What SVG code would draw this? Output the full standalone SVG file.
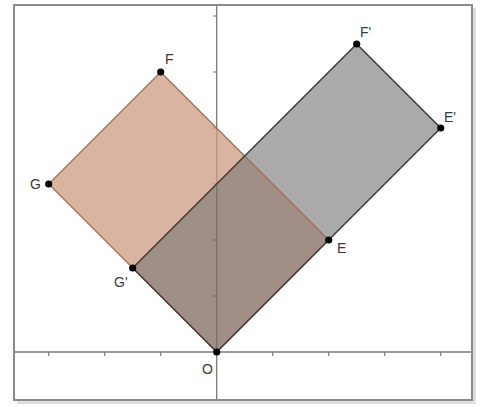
<svg xmlns="http://www.w3.org/2000/svg" width="482" height="407" viewBox="0 0 482 407">
  <style>
    .axis { stroke: #7a7a7a; stroke-width: 1.3; fill: none; }
    .tick { stroke: #7a7a7a; stroke-width: 1.2; }
    .orange-edge { stroke: #a5643f; stroke-width: 1.1; fill: none; }
    .gray-edge { stroke: #3c3c3c; stroke-width: 1.5; fill: none; stroke-linejoin: round; }
    .pt { fill: #000; }
    .lbl { font-family: "Liberation Sans", Arial, sans-serif; font-size: 14px; fill: #3a3a3a; }
  </style>
  <rect x="0" y="0" width="482" height="407" fill="#ffffff"/>
  <!-- frame with shadow -->
  <rect x="17" y="8" width="459" height="396" fill="#c8c8c8" opacity="0.6"/>
  <rect x="14" y="5" width="458" height="395" fill="#ffffff" stroke="#8a8a8a" stroke-width="2"/>

  <!-- axes -->
  <g id="axes">
    <line class="axis" x1="15" y1="352" x2="471" y2="352"/>
    <line class="axis" x1="216.7" y1="6" x2="216.7" y2="399"/>
    <g class="tick">
      <line x1="48.7" y1="352" x2="48.7" y2="356"/>
      <line x1="104.7" y1="352" x2="104.7" y2="356"/>
      <line x1="160.7" y1="352" x2="160.7" y2="356"/>
      <line x1="272.7" y1="352" x2="272.7" y2="356"/>
      <line x1="328.7" y1="352" x2="328.7" y2="356"/>
      <line x1="384.7" y1="352" x2="384.7" y2="356"/>
      <line x1="440.7" y1="352" x2="440.7" y2="356"/>
      <line x1="213" y1="296" x2="216.7" y2="296"/>
      <line x1="213" y1="240" x2="216.7" y2="240"/>
      <line x1="213" y1="184" x2="216.7" y2="184"/>
      <line x1="213" y1="128" x2="216.7" y2="128"/>
      <line x1="213" y1="72" x2="216.7" y2="72"/>
      <line x1="213" y1="16" x2="216.7" y2="16"/>
    </g>
  </g>

  <!-- filled regions -->
  <g id="orange-rect">
    <polygon points="132.7,268 244.7,156 160.7,72 48.7,184" fill="#cc9b80" fill-opacity="0.75"/>
  </g>
  <g id="gray-rect">
    <polygon points="244.7,156 328.7,240 440.7,128 356.7,44" fill="#8e8e8e" fill-opacity="0.75"/>
  </g>
  <g id="overlap">
    <polygon points="216.7,352 328.7,240 244.7,156 132.7,268" fill="#806a5d" fill-opacity="0.75"/>
  </g>

  <!-- edges -->
  <g id="connectors">
    <polygon class="orange-edge" points="216.7,352 328.7,240 160.7,72 48.7,184"/>
    <polygon class="gray-edge" points="216.7,352 440.7,128 356.7,44 132.7,268"/>
  </g>

  <!-- points -->
  <g id="point-O"><circle class="pt" cx="216.7" cy="352" r="3.6"/><text class="lbl" x="202" y="374">O</text></g>
  <g id="point-E"><circle class="pt" cx="328.7" cy="240" r="3.6"/><text class="lbl" x="337" y="253">E</text></g>
  <g id="point-E1"><circle class="pt" cx="440.7" cy="128" r="3.6"/><text class="lbl" x="444" y="122">E'</text></g>
  <g id="point-F1"><circle class="pt" cx="356.7" cy="44" r="3.6"/><text class="lbl" x="360" y="37">F'</text></g>
  <g id="point-G1"><circle class="pt" cx="132.7" cy="268" r="3.6"/><text class="lbl" x="114" y="287">G'</text></g>
  <g id="point-F"><circle class="pt" cx="160.7" cy="72" r="3.6"/><text class="lbl" x="165" y="64">F</text></g>
  <g id="point-G"><circle class="pt" cx="48.7" cy="184" r="3.6"/><text class="lbl" x="30" y="189">G</text></g>
</svg>
